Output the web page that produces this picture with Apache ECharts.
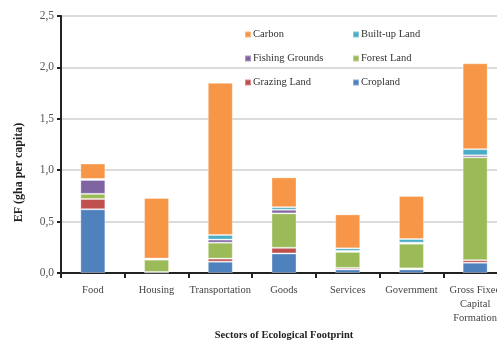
<!DOCTYPE html>
<html><head><meta charset="utf-8">
<script src="https://cdn.jsdelivr.net/npm/echarts@6/dist/echarts.min.js"></script>
<style>html,body{margin:0;padding:0;background:#fff}#c{width:497px;height:343px}</style>
</head><body><div id="c"></div>
<script>
const categories = ['Food','Housing','Transportation','Goods','Services','Government','Gross Fixed\nCapital\nFormation'];
const cropland  = [0.62, 0.005, 0.11, 0.19, 0.035, 0.035, 0.10];
const grazing   = [0.10, 0.005, 0.03, 0.055, 0.015, 0.01, 0.025];
const forest    = [0.05, 0.12, 0.155, 0.335, 0.155, 0.24, 1.00];
const fishing   = [0.135, 0.0, 0.03, 0.035, 0.01, 0.01, 0.02];
const builtup   = [0.01, 0.01, 0.045, 0.025, 0.025, 0.035, 0.06];
const carbon    = [0.15, 0.59, 1.48, 0.29, 0.33, 0.42, 0.835];
const yTicks = [0, 0.5, 1.0, 1.5, 2.0, 2.5];

const FONT = 'Liberation Serif';
const seriesDefs = [
  ['Cropland', cropland, '#4f81bd'],
  ['Grazing Land', grazing, '#c0504d'],
  ['Forest Land', forest, '#9bbb59'],
  ['Fishing Grounds', fishing, '#8064a2'],
  ['Built-up Land', builtup, '#4bacc6'],
  ['Carbon', carbon, '#f79646']
];
const chart = echarts.init(document.getElementById('c'));
const legendText = {fontFamily: FONT, fontSize: 10.5, color: '#333', padding: [0, 0, 0, -3]};
chart.setOption({
  animation: false,
  grid: {left: 61, top: 16, width: 446, height: 257, outerBoundsMode: 'none', containLabel: false},
  legend: [
    {data: ['Carbon','Fishing Grounds','Grazing Land'], orient: 'vertical', left: 244, top: 29, itemGap: 13,
     icon: 'rect', itemWidth: 6, itemHeight: 6, textStyle: legendText, padding: 0},
    {data: ['Built-up Land','Forest Land','Cropland'], orient: 'vertical', left: 352, top: 29, itemGap: 13,
     icon: 'rect', itemWidth: 6, itemHeight: 6, textStyle: legendText, padding: 0}
  ],
  xAxis: {
    type: 'category', data: categories,
    name: 'Sectors of Ecological Footprint', nameLocation: 'middle', nameGap: 56,
    nameTextStyle: {fontFamily: FONT, fontSize: 10.5, fontWeight: 'bold', color: '#222'},
    axisLine: {lineStyle: {color: '#222', width: 2}},
    axisTick: {show: true, length: 5, lineStyle: {color: '#222', width: 2}},
    axisLabel: {fontFamily: FONT, fontSize: 10.5, color: '#444', margin: 10, lineHeight: 14, interval: 0}
  },
  yAxis: {
    type: 'value', min: 0, max: 2.5, interval: 0.5,
    name: 'EF (gha per capita)', nameLocation: 'middle', nameGap: 36,
    nameTextStyle: {fontFamily: FONT, fontSize: 12, fontWeight: 'bold', color: '#222', padding: [0, 56, 0, 0]},
    axisLine: {show: true, lineStyle: {color: '#222', width: 2}},
    axisTick: {show: true, length: 4, lineStyle: {color: '#222', width: 2}},
    axisLabel: {fontFamily: FONT, fontSize: 11.5, color: '#555', margin: 7,
      formatter: v => yTicks.includes(v) ? v.toFixed(1).replace('.', ',') : ''},
    splitLine: {lineStyle: {color: '#cfcfcf', width: 1.5}}
  },
  series: seriesDefs.map(([name, data, color]) => ({
    name, type: 'bar', stack: 'ef', data, barWidth: 25,
    itemStyle: {color, borderColor: 'rgba(255,255,255,0.35)', borderWidth: 1}
  }))
});
</script></body></html>
